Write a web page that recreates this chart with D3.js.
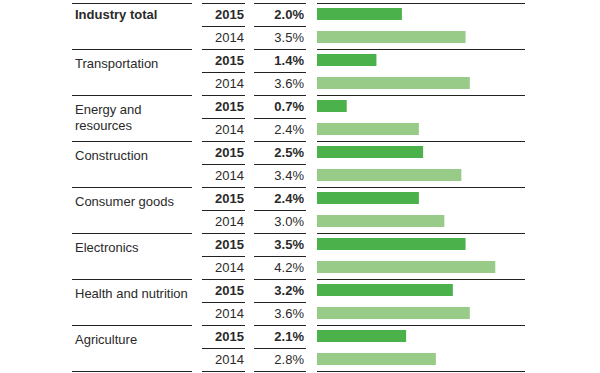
<!DOCTYPE html>
<html>
<head>
<meta charset="utf-8">
<script src="https://cdn.jsdelivr.net/npm/d3@7"></script>
<style>
  body { margin: 0; background: #fff; }
  text { font-family: "Liberation Sans", Arial, Helvetica, sans-serif; font-size: 13px; fill: #2a2a2a; }
</style>
</head>
<body>
<svg id="chart"></svg>
<script>
var w = 600; // Width of the SVG element
var h = 373; // Height of the SVG element

// data
var categories = ["Industry total", "Transportation", "Energy and\nresources", "Construction",
  "Consumer goods", "Electronics", "Health and nutrition", "Agriculture"];
var years = ["2015", "2014"];
var values2015 = [2.0, 1.4, 0.7, 2.5, 2.4, 3.5, 3.2, 2.1];
var values2014 = [3.5, 3.6, 2.4, 3.4, 3.0, 4.2, 3.6, 2.8];

// one row per category and year
var rows = [];
categories.forEach(function(c, i) {
  rows.push({ cat: c, group: i, year: years[0], value: values2015[i], first: true });
  rows.push({ cat: c, group: i, year: years[1], value: values2014[i], first: false });
});

var svg = d3.select("#chart")
  .attr("width", w)
  .attr("height", h);

var yScale = d3.scaleBand()
  .domain(d3.range(rows.length))
  .range([2.5, 370.5])
  .padding(0);

var xScale = d3.scaleLinear()
  .domain([0, 4.9])
  .range([317, 525]);

var rh = yScale.bandwidth();
var barH = 12;

// column extents for the rules
var cols = {
  label: [72, 192],
  year: [202, 245],
  value: [254, 306],
  bar: [317, 525]
};

// horizontal rules: year & value on every row, label & bar only between groups
var lineYs = d3.range(rows.length + 1).map(function(i) { return Math.round(2.5 + i * rh) + 0.5; });

lineYs.forEach(function(y, i) {
  var keys = (i % 2 === 0) ? ["label", "year", "value", "bar"] : ["year", "value"];
  keys.forEach(function(k) {
    svg.append("line")
      .attr("x1", cols[k][0])
      .attr("x2", cols[k][1])
      .attr("y1", y)
      .attr("y2", y)
      .attr("stroke", "#222")
      .attr("stroke-width", 1.2);
  });
});

// bars
svg.selectAll("rect.bar")
  .data(rows)
  .enter()
  .append("rect")
  .attr("class", "bar")
  .attr("x", xScale(0))
  .attr("y", function(d, i) { return yScale(i) + (rh - barH) / 2; })
  .attr("width", function(d) { return xScale(d.value) - xScale(0); })
  .attr("height", barH)
  .attr("fill", function(d) { return d.first ? "#4bb14a" : "#98cb88"; });

// year column
svg.selectAll("text.year")
  .data(rows)
  .enter()
  .append("text")
  .attr("class", "year")
  .attr("x", 244)
  .attr("y", function(d, i) { return yScale(i) + 16; })
  .attr("text-anchor", "end")
  .style("font-weight", function(d) { return d.first ? "bold" : "normal"; })
  .text(function(d) { return d.year; });

// value column
svg.selectAll("text.val")
  .data(rows)
  .enter()
  .append("text")
  .attr("class", "val")
  .attr("x", 304)
  .attr("y", function(d, i) { return yScale(i) + 16; })
  .attr("text-anchor", "end")
  .style("font-weight", function(d) { return d.first ? "bold" : "normal"; })
  .text(function(d) { return d.value.toFixed(1) + "%"; });

// category labels
var labels = svg.selectAll("text.cat")
  .data(categories)
  .enter()
  .append("text")
  .attr("class", "cat")
  .attr("x", 75)
  .attr("y", function(d, i) {
    var top = yScale(i * 2);
    if (d.indexOf("\n") >= 0) return top + 19;
    return i === 0 ? top + 16 : top + 19;
  })
  .style("font-weight", function(d, i) { return i === 0 ? "bold" : "normal"; });

labels.each(function(d) {
  var parts = d.split("\n");
  var t = d3.select(this);
  parts.forEach(function(p, j) {
    t.append("tspan")
      .attr("x", 75)
      .attr("dy", j === 0 ? 0 : 16.5)
      .text(p);
  });
});
</script>
</body>
</html>
